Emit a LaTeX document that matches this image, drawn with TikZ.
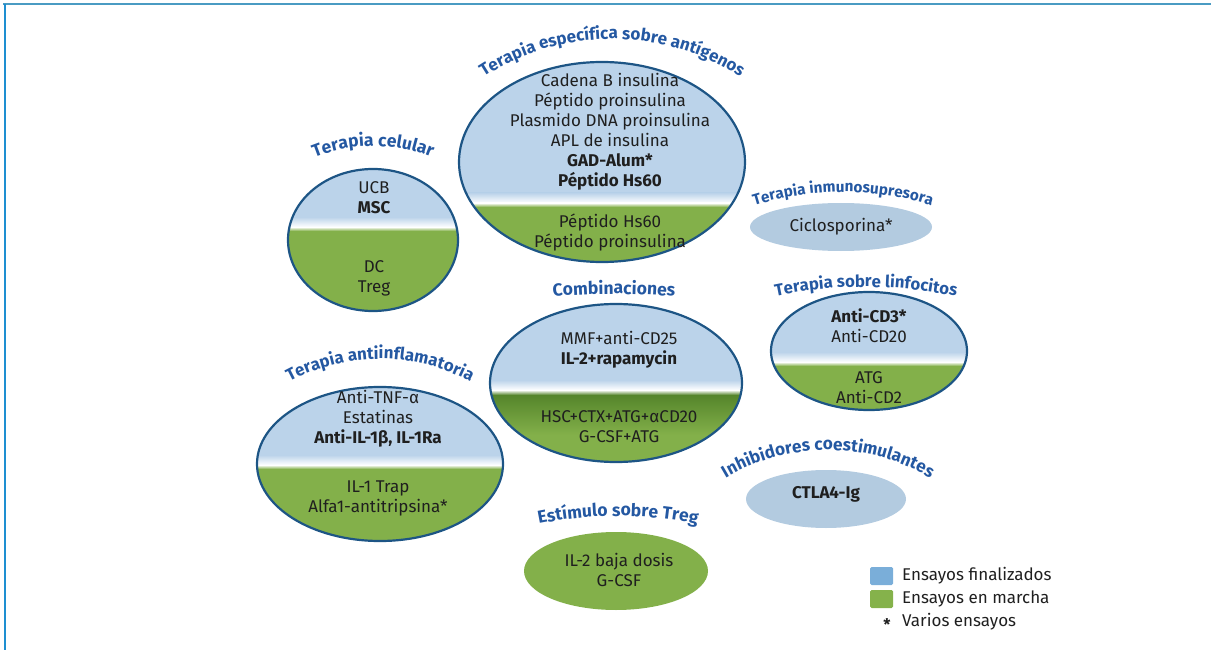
\documentclass[tikz,border=0pt]{standalone}
\usepackage{fontspec}
\setmainfont{Fira Sans}
\usetikzlibrary{shapes.geometric,decorations.text}
\definecolor{cblue}{HTML}{BBD3EA}
\definecolor{cgreen}{HTML}{83B04A}
\definecolor{cgreendk}{HTML}{55852B}
\definecolor{cborder}{HTML}{1D5585}
\definecolor{tblue}{HTML}{2458A2}
\definecolor{lblue}{HTML}{B3CBE0}
\definecolor{legblue}{HTML}{7AAED9}
\definecolor{leggreen}{HTML}{85B24B}
\definecolor{frametop}{HTML}{4A9BC3}
\definecolor{frameleft}{HTML}{1E8FD1}
\newcommand\bodyfont{\fontsize{17}{20}\selectfont}
% bicolour ellipse: name, cx, cy, rx, ry, band y
\newcommand\biell[6]{%
  \begin{scope}
    \clip (#2,-#3) ellipse [x radius=#4, y radius=#5];
    \fill[cblue] (#2-#4,-#3+#5) rectangle (#2+#4,-#6);
    \fill[cgreen] (#2-#4,-#6) rectangle (#2+#4,-#3-#5);
    \shade[top color=cblue,bottom color=white] (#2-#4,-#6+10) rectangle (#2+#4,-#6);
    \shade[top color=white,bottom color=cgreen] (#2-#4,-#6) rectangle (#2+#4,-#6-4);
  \end{scope}
  \node[ellipsebox,minimum width=2*#4pt,minimum height=2*#5pt] (#1) at (#2,-#3) {};
}
% curved title: font size, centre x, peak baseline y, radius, half angle, text
\newcommand\arctitle[6]{%
  \path[decorate,decoration={text along path,text align=center,
      text={|\fontsize{#1}{#1}\selectfont\bfseries\color{tblue}|#6}}]
    (#2,-#3-#4) ++(90+#5:#4) arc[start angle=90+#5,end angle=90-#5,radius=#4];
}
\tikzset{
  ellipsebox/.style={ellipse,draw=cborder,line width=2.2pt,inner sep=0pt},
  plainell/.style={ellipse,inner sep=0pt},
  txt/.style={align=center,font=\bodyfont,text=black!88,inner sep=0pt},
  legtxt/.style={anchor=west,font=\fontsize{17}{18}\selectfont,text=black!88,inner sep=0pt},
}
\begin{document}
\begin{tikzpicture}[x=1pt,y=1pt]
\useasboundingbox (0,0) rectangle (1211,-650);
% frame
\draw[frametop,line width=2pt] (3,-4.5) -- (1211,-4.5);
\draw[frameleft,line width=2pt] (4.5,-4) -- (4.5,-650);

% Terapia especifica sobre antigenos
\biell{antigen}{602}{162}{143}{100}{203}
\node[txt] (antigenA) at (610,-132) {Cadena B insulina\\Péptido proinsulina\\Plasmido DNA proinsulina\\APL de insulina\\\textbf{GAD-Alum*}\\\textbf{Péptido Hs60}};
\node[txt] (antigenB) at (610,-233) {Péptido Hs60\\Péptido proinsulina};
\arctitle{17}{612}{39}{235}{45}{Terapia específica sobre antígenos}

% Terapia celular
\biell{celular}{373}{240}{85}{71}{227}
\node[txt] (celularA) at (374,-198) {UCB\\\textbf{MSC}};
\node[txt] (celularB) at (374,-278) {DC\\Treg};
\arctitle{17.5}{373}{146}{155}{40}{Terapia celular}

% Combinaciones
\begin{scope}
  \clip (616,-383) ellipse [x radius=126, y radius=79];
  \fill[cblue] (490,-304) rectangle (742,-390);
  \fill[cgreen] (490,-390) rectangle (742,-462);
  \shade[top color=cblue,bottom color=white] (490,-380) rectangle (742,-390);
  \shade[top color=white,bottom color=cgreendk] (490,-390) rectangle (742,-395);
  \shade[top color=cgreendk,bottom color=cgreen] (490,-395) rectangle (742,-435);
\end{scope}
\node[ellipsebox,minimum width=252pt,minimum height=158pt] (combi) at (616,-383) {};
\node[txt] (combiA) at (619,-350) {MMF+anti-CD25\\\textbf{IL-2+rapamycin}};
\node[txt] (combiB) at (619,-427) {HSC+CTX+ATG+αCD20\\G-CSF+ATG};
\arctitle{17.5}{614}{294}{684}{10}{Combinaciones}

% Terapia inmunosupresora
\node[plainell,fill=lblue,minimum width=182pt,minimum height=48pt] (inmuno) at (841,-227) {};
\node[txt] (inmunoA) at (841,-227) {Ciclosporina*};
\arctitle{15.3}{843}{192}{300}{25}{Terapia inmunosupresora}

% Terapia sobre linfocitos
\biell{linfo}{869}{351}{98}{59}{362}
\node[txt] (linfoA) at (869,-326) {\textbf{Anti-CD3*}\\Anti-CD20};
\node[txt] (linfoB) at (869,-388) {ATG\\Anti-CD2};
\arctitle{16.7}{866}{287}{440}{20}{Terapia sobre linfocitos}

% Terapia antiinflamatoria
\biell{antiinf}{380}{464}{123}{77}{465}
\node[txt] (antiinfA) at (378,-419) {Anti-TNF-α\\Estatinas\\\textbf{Anti-IL-1β, IL-1Ra}};
\node[txt] (antiinfB) at (378,-498) {IL-1 Trap\\Alfa1-antitripsina*};
\arctitle{16.9}{380}{359}{190}{40}{Terapia antiinflamatoria}

% Inhibidores coestimulantes
\node[plainell,fill=lblue,minimum width=160pt,minimum height=58pt] (inhib) at (826,-499) {};
\node[txt] (inhibA) at (826,-494) {\textbf{CTLA4-Ig}};
\arctitle{17.2}{828}{450}{200}{50}{Inhibidores coestimulantes}

% Estimulo sobre Treg
\node[plainell,fill=cgreen,minimum width=184pt,minimum height=78pt] (estim) at (616,-571) {};
\node[txt] (estimA) at (619,-570) {IL-2 baja dosis\\G-CSF};
\arctitle{17.5}{618}{516}{400}{18}{Estímulo sobre Treg}

% Legend
\node[fill=legblue,rounded corners=1.5pt,minimum width=23pt,minimum height=18pt,inner sep=0pt] (legB) at (881.5,-576) {};
\node[fill=leggreen,rounded corners=1.5pt,minimum width=23pt,minimum height=18pt,inner sep=0pt] (legG) at (881.5,-599) {};
\node[legtxt] (legBt) at (902,-576) {Ensayos finalizados};
\node[legtxt] (legGt) at (902,-599) {Ensayos en marcha};
\node[inner sep=0pt,font=\fontsize{16}{16}\selectfont\bfseries,text=black!88] (legS) at (887,-625) {*};
\node[legtxt] (legSt) at (902,-622) {Varios ensayos};
\end{tikzpicture}
\end{document}
